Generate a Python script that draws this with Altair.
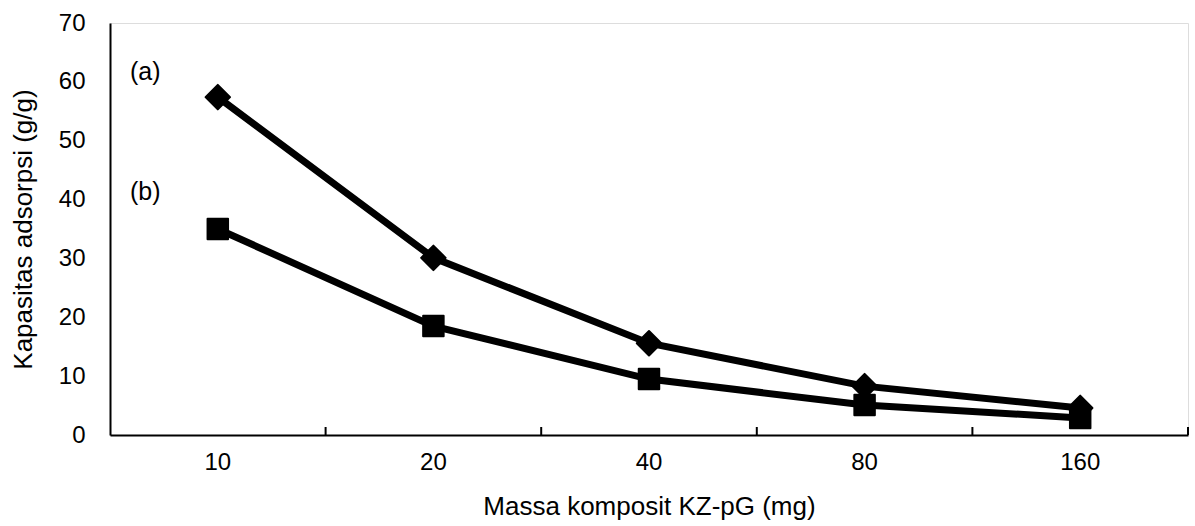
import altair as alt
import pandas as pd

# ---- data ----
mass = ["10", "20", "40", "80", "160"]
cap_a = [57.4, 30.1, 15.6, 8.3, 4.6]
cap_b = [35.0, 18.5, 9.5, 5.1, 2.9]
series_names = ["(a)", "(b)"]
series_label_y = [61.7, 41.3]
y_ticks = [0, 10, 20, 30, 40, 50, 60, 70]

df = pd.DataFrame({
    "mass": mass * 2,
    "cap": cap_a + cap_b,
    "series": [series_names[0]] * len(mass) + [series_names[1]] * len(mass),
})
df_ticks = pd.DataFrame({"mass": mass})
df_lab = pd.DataFrame({"mass": [mass[0]] * 2, "cap": series_label_y, "series": series_names})

W, H = 1078, 412
FONT = "Liberation Sans"
FS = 24
TFS = 26

xscale = alt.Scale(type="band", domain=mass, paddingInner=0, paddingOuter=0)
yscale = alt.Scale(domain=[0, 70], nice=False)

x_axis = alt.Axis(
    title="Massa komposit KZ-pG (mg)", labelAngle=0, ticks=False, tickSize=0,
    labelPadding=15, titlePadding=19, domainColor="black", domainWidth=2,
    labelFont=FONT, titleFont=FONT, labelFontSize=FS, titleFontSize=TFS,
    labelColor="black", titleColor="black", titleFontWeight="normal", grid=False,
)
y_axis = alt.Axis(
    title="Kapasitas adsorpsi (g/g)", values=y_ticks, grid=False, ticks=False, tickSize=0,
    labelPadding=25, titlePadding=22, domainColor="black", domainWidth=2,
    labelFont=FONT, titleFont=FONT, labelFontSize=FS, titleFontSize=TFS,
    labelColor="black", titleColor="black", titleFontWeight="normal",
)


def xenc(bp):
    return alt.X("mass:N", scale=xscale, sort=mass, bandPosition=bp, axis=x_axis)


yenc = alt.Y("cap:Q", scale=yscale, axis=y_axis)

lines = alt.Chart(df).mark_line(color="black", strokeWidth=7).encode(
    x=xenc(0.5), y=yenc, detail="series:N"
)
points = alt.Chart(df).mark_point(
    filled=True, color="black", stroke="black", strokeWidth=2, strokeJoin="round", opacity=1
).encode(
    x=xenc(0.5), y=yenc,
    shape=alt.Shape("series:N", scale=alt.Scale(domain=series_names, range=["diamond", "square"]), legend=None),
    size=alt.Size("series:N", scale=alt.Scale(domain=series_names, range=[600, 420]), legend=None),
)
ticks = alt.Chart(df_ticks).mark_rule(color="black", strokeWidth=2).encode(
    x=xenc(1), y=alt.value(H - 8), y2=alt.value(H)
)
labels = alt.Chart(df_lab).mark_text(
    align="left", baseline="middle", dx=20, font=FONT, fontSize=25, color="black"
).encode(x=xenc(0), y=yenc, text="series:N")

chart = alt.layer(lines, points, ticks, labels).properties(
    width=W, height=H,
    autosize=alt.AutoSizeParams(type="none"),
    padding={"left": 110, "top": 23, "right": 7, "bottom": 91},
).configure_view(stroke=None).configure(background="white")

chart.save("out.html", embed_options={"renderer": "svg", "actions": False})
